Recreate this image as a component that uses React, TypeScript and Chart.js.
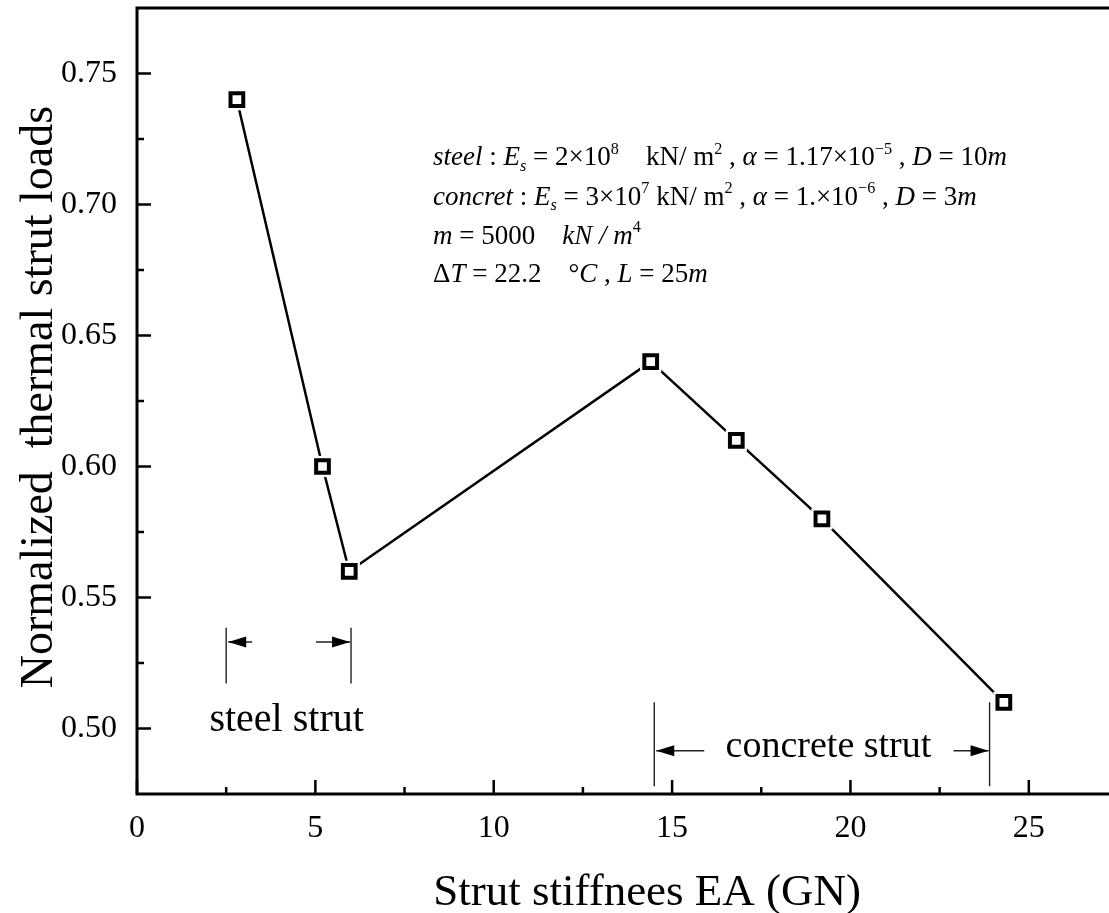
import React, { useEffect, useRef } from "react";
import { Chart, registerables } from "chart.js";

Chart.register(...registerables);

const SERIF = '"Liberation Serif", "Times New Roman", serif';

// Strut stiffness EA (GN) against normalized thermal strut load
const stiffness = [2.8, 5.2, 5.95, 14.4, 16.8, 19.2, 24.3];
const normalizedLoad = [0.74, 0.6, 0.56, 0.64, 0.61, 0.58, 0.51];

const xMajorTicks = [0, 5, 10, 15, 20, 25];
const xMinorTicks = [2.5, 7.5, 12.5, 17.5, 22.5];
const yMajorTicks = [0.5, 0.55, 0.6, 0.65, 0.7, 0.75];
const yMinorTicks = [0.525, 0.575, 0.625, 0.675, 0.725];

const xLimits = [0, 27.5];
const yLimits = [0.475, 0.775];

const xTitle = "Strut stiffnees EA (GN)";
const yTitle = "Normalized  thermal strut loads";
const xTitleCenter = 14.3;
const yTitleCenter = 0.6265;

// Dimension brackets marking the steel and concrete strut ranges
const steelBracket = {
  x: [2.5, 6.0],
  y: [0.5172, 0.5385],
  arrowY: 0.533,
  shaft: [24, 34],
  label: "steel strut",
  labelSize: 40,
  labelX: 2.03,
  labelY: 0.499,
};
const concreteBracket = {
  x: [14.5, 23.9],
  y: [0.478, 0.51],
  arrowY: 0.4915,
  shaft: [48, 35],
  label: "concrete strut",
  labelSize: 38,
  labelX: 16.5,
  labelY: 0.4893,
};

// Material parameters block
type Seg = { t: string; it?: boolean; sup?: boolean; sub?: boolean };
const paramLineSteel: Seg[] = [
  { t: "steel", it: true },
  { t: " : " },
  { t: "E", it: true },
  { t: "s", it: true, sub: true },
  { t: " = 2×10" },
  { t: "8", sup: true },
  { t: "    kN/ m" },
  { t: "2", sup: true },
  { t: " , " },
  { t: "α", it: true },
  { t: " = 1.17×10" },
  { t: "−5", sup: true },
  { t: " , " },
  { t: "D", it: true },
  { t: " = 10" },
  { t: "m", it: true },
];
const paramLineConcrete: Seg[] = [
  { t: "concret", it: true },
  { t: " : " },
  { t: "E", it: true },
  { t: "s", it: true, sub: true },
  { t: " = 3×10" },
  { t: "7", sup: true },
  { t: " kN/ m" },
  { t: "2", sup: true },
  { t: " , " },
  { t: "α", it: true },
  { t: " = 1.×10" },
  { t: "−6", sup: true },
  { t: " , " },
  { t: "D", it: true },
  { t: " = 3" },
  { t: "m", it: true },
];
const paramLineSoil: Seg[] = [
  { t: "m", it: true },
  { t: " = 5000    " },
  { t: "kN / m", it: true },
  { t: "4", sup: true },
];
const paramLineTemp: Seg[] = [
  { t: "Δ" },
  { t: "T", it: true },
  { t: " = 22.2    °" },
  { t: "C", it: true },
  { t: " , " },
  { t: "L", it: true },
  { t: " = 25" },
  { t: "m", it: true },
];
const paramLines = [paramLineSteel, paramLineConcrete, paramLineSoil, paramLineTemp];
const paramX = 8.3;
const paramBaselines = [0.715, 0.7, 0.685, 0.6705];

function drawRich(ctx: CanvasRenderingContext2D, segs: Seg[], x: number, y: number, size: number) {
  let cx = x;
  ctx.textAlign = "left";
  ctx.textBaseline = "alphabetic";
  for (const s of segs) {
    const fs = s.sup || s.sub ? size * 0.6 : size;
    ctx.font = `${s.it ? "italic " : ""}${fs}px ${SERIF}`;
    const dy = s.sup ? -size * 0.42 : s.sub ? size * 0.22 : 0;
    ctx.fillText(s.t, cx, y + dy);
    cx += ctx.measureText(s.t).width;
  }
}

function arrowHead(ctx: CanvasRenderingContext2D, tipX: number, y: number, dir: number) {
  const len = 18;
  const half = 5.5;
  ctx.beginPath();
  ctx.moveTo(tipX, y);
  ctx.lineTo(tipX - dir * len, y - half);
  ctx.lineTo(tipX - dir * len, y + half);
  ctx.closePath();
  ctx.fill();
}

const decorations = {
  id: "decorations",
  afterDraw(chart: any) {
    const { ctx, chartArea: a, scales } = chart;
    const xs = scales.x;
    const ys = scales.y;
    ctx.save();

    // frame
    ctx.strokeStyle = "#000";
    ctx.lineWidth = 3;
    ctx.lineCap = "square";
    ctx.beginPath();
    ctx.moveTo(a.left, a.bottom);
    ctx.lineTo(a.left, a.top);
    ctx.lineTo(a.right, a.top);
    ctx.lineTo(a.right, a.bottom);
    ctx.closePath();
    ctx.stroke();

    // inward ticks
    ctx.lineCap = "butt";
    ctx.lineWidth = 2.5;
    ctx.beginPath();
    for (const v of xMajorTicks) {
      const px = xs.getPixelForValue(v);
      ctx.moveTo(px, a.bottom);
      ctx.lineTo(px, a.bottom - 14);
    }
    for (const v of xMinorTicks) {
      const px = xs.getPixelForValue(v);
      ctx.moveTo(px, a.bottom);
      ctx.lineTo(px, a.bottom - 7);
    }
    for (const v of yMajorTicks) {
      const py = ys.getPixelForValue(v);
      ctx.moveTo(a.left, py);
      ctx.lineTo(a.left + 14, py);
    }
    for (const v of yMinorTicks) {
      const py = ys.getPixelForValue(v);
      ctx.moveTo(a.left, py);
      ctx.lineTo(a.left + 7, py);
    }
    ctx.stroke();

    // axis titles
    ctx.fillStyle = "#000";
    ctx.font = `45px ${SERIF}`;
    ctx.textAlign = "center";
    ctx.textBaseline = "alphabetic";
    ctx.fillText(xTitle, xs.getPixelForValue(xTitleCenter), a.bottom + 111);
    ctx.save();
    ctx.font = `46px ${SERIF}`;
    ctx.translate(52, ys.getPixelForValue(yTitleCenter));
    ctx.rotate(-Math.PI / 2);
    ctx.fillText(yTitle, 0, 0);
    ctx.restore();

    // brackets
    for (const b of [steelBracket, concreteBracket]) {
      const x0 = xs.getPixelForValue(b.x[0]);
      const x1 = xs.getPixelForValue(b.x[1]);
      const yTop = ys.getPixelForValue(b.y[1]);
      const yBot = ys.getPixelForValue(b.y[0]);
      const ay = ys.getPixelForValue(b.arrowY);
      ctx.strokeStyle = "#222";
      ctx.fillStyle = "#000";
      ctx.lineWidth = 1.4;
      ctx.beginPath();
      ctx.moveTo(x0, yTop);
      ctx.lineTo(x0, yBot);
      ctx.moveTo(x1, yTop);
      ctx.lineTo(x1, yBot);
      ctx.moveTo(x0 + 2, ay);
      ctx.lineTo(x0 + 2 + b.shaft[0], ay);
      ctx.moveTo(x1 - 1, ay);
      ctx.lineTo(x1 - 1 - b.shaft[1], ay);
      ctx.stroke();
      arrowHead(ctx, x0 + 2, ay, -1);
      arrowHead(ctx, x1 - 1, ay, 1);

      ctx.font = `${b.labelSize}px ${SERIF}`;
      ctx.textAlign = "left";
      ctx.textBaseline = "alphabetic";
      ctx.fillText(b.label, xs.getPixelForValue(b.labelX), ys.getPixelForValue(b.labelY));
    }

    // parameter block
    ctx.fillStyle = "#000";
    const px = xs.getPixelForValue(paramX);
    paramLines.forEach((line, i) => {
      drawRich(ctx, line, px, ys.getPixelForValue(paramBaselines[i]), 27);
    });

    ctx.restore();
  },
};

export default function App() {
  const canvasRef = useRef<HTMLCanvasElement>(null);

  useEffect(() => {
    const points = stiffness.map((x, i) => ({ x, y: normalizedLoad[i] }));
    const chart = new Chart(canvasRef.current as HTMLCanvasElement, {
      type: "scatter",
      data: {
        datasets: [
          {
            label: "load",
            data: points,
            showLine: true,
            borderColor: "#000",
            borderWidth: 2.5,
            pointRadius: 0,
            tension: 0,
            order: 3,
          },
          {
            label: "gap",
            data: points,
            showLine: false,
            pointStyle: "rect",
            pointRadius: 15,
            pointBorderWidth: 0,
            pointBackgroundColor: "#fff",
            pointBorderColor: "#fff",
            order: 2,
          },
          {
            label: "markers",
            data: points,
            showLine: false,
            pointStyle: "rect",
            pointRadius: 9,
            pointBorderWidth: 4,
            pointBorderColor: "#000",
            pointBackgroundColor: "#fff",
            order: 1,
          },
        ],
      },
      options: {
        animation: false,
        responsive: false,
        devicePixelRatio: 1,
        events: [],
        layout: { autoPadding: false, padding: { top: 8, right: 12, left: 0, bottom: 0 } },
        plugins: { legend: { display: false }, tooltip: { enabled: false } },
        scales: {
          x: {
            type: "linear",
            min: xLimits[0],
            max: xLimits[1],
            grid: { display: false, drawTicks: false },
            border: { display: false },
            afterBuildTicks: (s: any) => {
              s.ticks = xMajorTicks.map((value) => ({ value }));
            },
            afterFit: (s: any) => {
              s.height = 119;
              s.paddingLeft = 0;
              s.paddingRight = 0;
              s.paddingTop = 0;
              s.paddingBottom = 0;
            },
            ticks: {
              color: "#000",
              font: { family: SERIF, size: 32 },
              padding: 15,
              maxRotation: 0,
              callback: (v: any) => String(v),
            },
            title: { display: false },
          },
          y: {
            type: "linear",
            min: yLimits[0],
            max: yLimits[1],
            grid: { display: false, drawTicks: false },
            border: { display: false },
            afterBuildTicks: (s: any) => {
              s.ticks = yMajorTicks.map((value) => ({ value }));
            },
            afterFit: (s: any) => {
              s.width = 137;
              s.paddingLeft = 0;
              s.paddingRight = 0;
              s.paddingTop = 0;
              s.paddingBottom = 0;
            },
            ticks: {
              color: "#000",
              font: { family: SERIF, size: 32 },
              padding: 20,
              callback: (v: any) => Number(v).toFixed(2),
            },
            title: { display: false },
          },
        },
      },
      plugins: [decorations],
    });
    return () => chart.destroy();
  }, []);

  return (
    <div
      style={{
        position: "absolute",
        left: 0,
        top: 0,
        width: 1109,
        height: 913,
        overflow: "hidden",
        background: "#fff",
      }}
    >
      <canvas ref={canvasRef} width={1130} height={913} style={{ display: "block", width: 1130, height: 913 }} />
    </div>
  );
}
